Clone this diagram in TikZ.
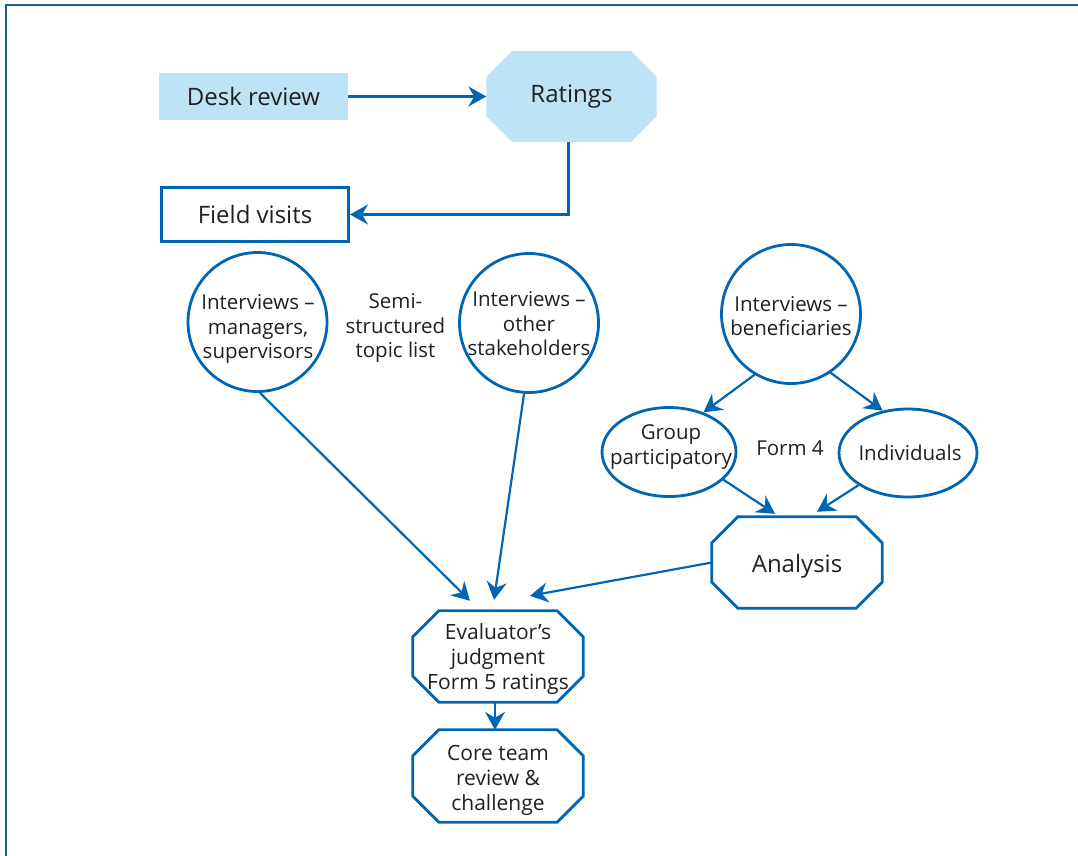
\documentclass[tikz,border=0pt]{standalone}
\usepackage{fontspec}
\setmainfont{Open Sans}
\usetikzlibrary{arrows.meta,shapes.geometric,calc,backgrounds}
\definecolor{lineblue}{RGB}{0,102,179}
\definecolor{frameblue}{RGB}{31,90,150}
\definecolor{lightfill}{RGB}{189,227,247}
\definecolor{txt}{RGB}{35,31,32}
\newcommand\octoshape[2]{%
  \begin{scope}[on background layer]
  \path[#2] ($(#1.north west)+(26,0)$) -- ($(#1.north east)+(-26,0)$) -- ($(#1.north east)+(0,26)$) -- ($(#1.south east)+(0,-26)$) -- ($(#1.south east)+(-26,0)$) -- ($(#1.south west)+(26,0)$) -- ($(#1.south west)+(0,-26)$) -- ($(#1.north west)+(0,26)$) -- cycle;
  \end{scope}}
\begin{document}
\begin{tikzpicture}[x=1pt,y=-1pt,
  every node/.style={text=txt,align=center,inner sep=0pt},
  big/.style={font=\fontsize{24}{30}\selectfont},
  mid/.style={font=\fontsize{21}{25}\selectfont},
  small/.style={font=\fontsize{20.5}{24.5}\selectfont},
  octo/.style={rectangle,minimum width=170pt,minimum height=91pt},
  octoline/.style={draw=lineblue,line width=2.8pt,fill=white},
  circ/.style={circle,draw=lineblue,line width=2.8pt,minimum size=139pt},
  ell/.style={ellipse,draw=lineblue,line width=2.8pt},
  conn/.style={draw=lineblue,line width=2.2pt,-{Stealth[length=18pt,width=20pt,inset=6pt]}},
  frame/.style={draw=frameblue,line width=2.6pt}
]
\useasboundingbox (0,0) rectangle (1078,855);
\draw[frame] (6,856) -- (6,5) -- (1079,5);

\node[big,fill=lightfill,minimum width=189pt,minimum height=47pt] (dr) at (253.5,96.5) {Desk review};
\node[big,octo] (ra) at (571.5,96.5) {Ratings};
\octoshape{ra}{fill=lightfill}
\node[big,draw=lineblue,line width=3pt,minimum width=187pt,minimum height=54pt] (fv) at (255,214.5) {Field visits};

\node[circ] (m) at (257.5,322) {};
\node[small] (mt) at (258,329) {Interviews –\\managers,\\supervisors};
\node[small] (semi) at (395.5,328) {Semi-\\structured\\topic list};
\node[circ] (o) at (529,323) {};
\node[small] (ot) at (529,324) {Interviews –\\other\\stakeholders};
\node[circ] (b) at (791,314) {};
\node[small] (bt) at (791,316) {Interviews –\\beneficiaries};
\node[ell,minimum width=134pt,minimum height=89pt] (g) at (669,452) {};
\node[small] (gt) at (671,447) {Group\\participatory};
\node[small] (f4) at (790,448) {Form 4};
\node[ell,minimum width=138pt,minimum height=88pt] (ind) at (908,453) {};
\node[small] (indt) at (910,453) {Individuals};

\node[octo] (an) at (797,562.5) {};
\octoshape{an}{octoline}
\node[big] (ant) at (797,566) {Analysis};
\node[octo] (ev) at (498,656.5) {};
\octoshape{ev}{octoline}
\node[mid] (evt) at (498,659) {Evaluator’s\\judgment\\Form 5 ratings};
\node[octo,minimum height=92pt] (ct) at (498,776) {};
\octoshape{ct}{octoline}
\node[mid] (ctt) at (498,780) {Core team\\review \&\\challenge};

\draw[conn] (dr.east) -- (ra.west);
\draw[conn] ([xshift=-3pt]ra.south) |- (fv.east);
\draw[conn] (m.-88) -- ($(ev.north)+(-28,-10)$);
\draw[conn] (o.-94) -- ($(ev.north)+(-4,-11)$);
\draw[conn] (an.west) -- ($(ev.north)+(32,-15)$);
\draw[conn] ([xshift=-3pt]ev.south) -- ([xshift=-3pt]ct.north);
\draw[conn] (b.-121) -- (g.49);
\draw[conn] (b.-56) -- (ind.121);
\draw[conn] (g.-27) -- ($(an.north)+(-22,-3)$);
\draw[conn] (ind.-147) -- ($(an.north)+(20,-5)$);
\end{tikzpicture}
\end{document}
